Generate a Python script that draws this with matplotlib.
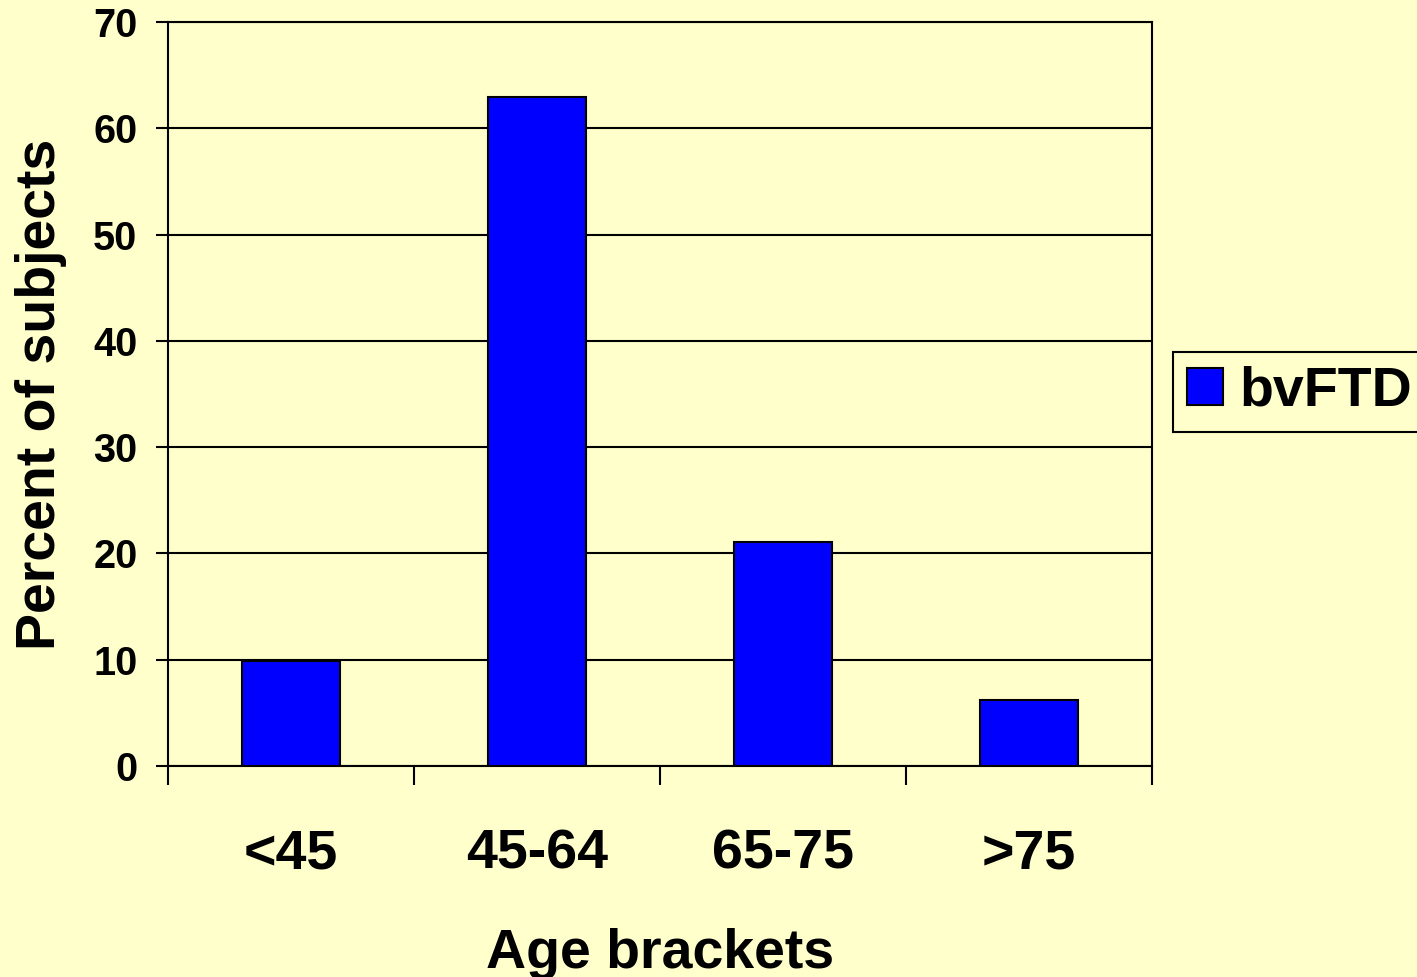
import matplotlib
matplotlib.use("Agg")
import matplotlib.pyplot as plt
from matplotlib.patches import Patch
import numpy as np

categories = ["<45", "45-64", "65-75", ">75"]
values = [9.9, 62.9, 21.1, 6.2]
series_name = "bvFTD"
yticks = [0, 10, 20, 30, 40, 50, 60, 70]

bg = "#FFFFCC"
plt.rcParams['font.family'] = ['Liberation Sans', 'DejaVu Sans']
plt.rcParams['font.weight'] = 'bold'

fig = plt.figure(figsize=(14.17, 9.77), dpi=100, facecolor=bg)
ax = fig.add_axes([168/1417, 1-766/977, (1152-168)/1417, (766-22)/977])
ax.set_facecolor(bg)

x = np.arange(len(categories))
ax.bar(x, values, width=0.4, color="#0000FF", edgecolor="black", linewidth=1.5, zorder=3)

ax.set_xlim(-0.5, len(categories) - 0.5)
ax.set_ylim(0, 70)
ax.set_yticks(yticks)
ax.set_yticklabels([str(t) for t in yticks], fontsize=28.5, fontweight='bold')
ax.yaxis.grid(True, color="black", linewidth=1.5, zorder=1)
ax.set_axisbelow(True)

ax.set_xticks(x)
ax.set_xticklabels(categories, fontsize=40, fontweight='bold')
ax.set_xticks(np.arange(len(categories) + 1) - 0.5, minor=True)
ax.tick_params(axis='x', which='major', length=0, pad=45)
ax.tick_params(axis='x', which='minor', length=14, width=1.5, direction='out')
ax.tick_params(axis='y', length=9, width=1.5, direction='out', pad=13)

for s in ax.spines.values():
    s.set_linewidth(1.5)
    s.set_color("black")

ax.set_xlabel("Age brackets", fontsize=40, fontweight='bold', labelpad=34)
ax.set_ylabel("Percent of subjects", fontsize=40, fontweight='bold', labelpad=19)

handles = [Patch(facecolor="#0000FF", edgecolor="black", linewidth=1.5, label=series_name)]
leg = fig.legend(handles=handles, loc='center left', bbox_to_anchor=(1173/1417, 1-392/977),
                 prop={'family': 'Liberation Sans', 'weight': 'bold', 'size': 40},
                 frameon=True, fancybox=False, edgecolor="black", facecolor=bg,
                 handlelength=0.65, handleheight=0.65, handletextpad=0.3, borderpad=0.25,
                 borderaxespad=0)
leg.get_frame().set_linewidth(1.5)
leg.get_frame().set_alpha(None)

fig.savefig("out.png", dpi=100, facecolor=bg)
